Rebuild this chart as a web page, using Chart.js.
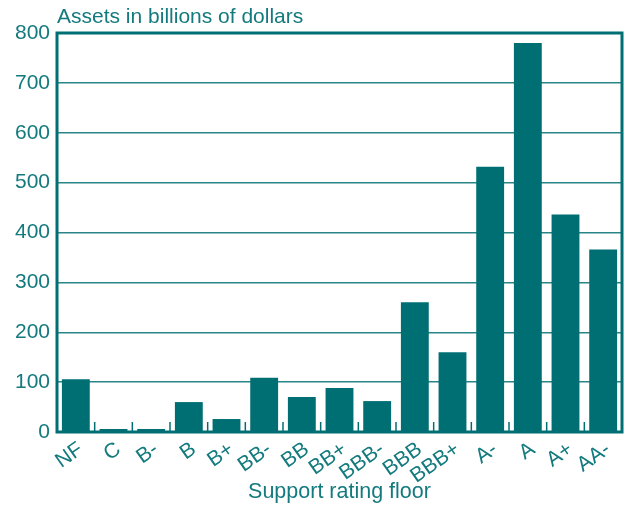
<!DOCTYPE html>
<html>
<head>
<meta charset="utf-8">
<script src="https://cdn.jsdelivr.net/npm/chart.js@4"></script>
<style>
    html, body { margin: 0; padding: 0; background: #fff; }
    #wrap { width: 629px; height: 510px; }
</style>
</head>
<body>
<div id="wrap"><canvas id="ratingChart"></canvas></div>
<script>
const ratings = ["NF", "C", "B-", "B", "B+", "BB-", "BB", "BB+", "BBB-", "BBB", "BBB+", "A-", "A", "A+", "AA-"];
const assets = [106, 6, 6, 60, 26, 109, 70, 88, 62, 260, 160, 532, 780, 436, 366];
const yTicks = [0, 100, 200, 300, 400, 500, 600, 700, 800];

const teal = '#006f74';
const textTeal = '#137a7e';
const font = "'Liberation Sans', Arial, sans-serif";

// frame, short category ticks and the top-left axis caption
const framePlugin = {
    id: 'frame',
    afterDraw(chart) {
        const ctx = chart.ctx;
        const a = chart.chartArea;
        const x = chart.scales.x;
        ctx.save();
        ctx.strokeStyle = teal;
        ctx.lineWidth = 1.5;
        for (let i = 1; i < ratings.length; i++) {
            const px = (x.getPixelForValue(i - 1) + x.getPixelForValue(i)) / 2;
            ctx.beginPath();
            ctx.moveTo(px, a.bottom);
            ctx.lineTo(px, a.bottom - 10);
            ctx.stroke();
        }
        ctx.lineWidth = 3;
        ctx.strokeRect(a.left, a.top, a.right - a.left, a.bottom - a.top);
        ctx.fillStyle = textTeal;
        ctx.font = "21px " + font;
        ctx.textBaseline = 'bottom';
        ctx.textAlign = 'left';
        ctx.fillText("Assets in billions of dollars", a.left, a.top - 5);
        ctx.restore();
    }
};

new Chart(document.getElementById('ratingChart'), {
    type: 'bar',
    data: {
        labels: ratings,
        datasets: [{
            label: 'Assets',
            data: assets,
            backgroundColor: teal,
            borderWidth: 0,
            barPercentage: 0.74,
            categoryPercentage: 1
        }]
    },
    options: {
        responsive: true,
        maintainAspectRatio: false,
        animation: false,
        layout: { padding: { top: 33, right: 7, left: 0, bottom: 5 } },
        plugins: {
            legend: { display: false },
            tooltip: { enabled: false }
        },
        scales: {
            x: {
                afterFit: s => { s.height = 73; },
                grid: { display: false },
                border: { display: false },
                ticks: {
                    color: textTeal,
                    font: { family: font, size: 21 },
                    minRotation: 35,
                    maxRotation: 35,
                    autoSkip: false,
                    padding: -3,
                    labelOffset: 5
                },
                title: {
                    display: true,
                    text: 'Support rating floor',
                    color: textTeal,
                    font: { family: font, size: 21.5 },
                    padding: { top: 0, bottom: 0 }
                }
            },
            y: {
                min: 0,
                max: 800,
                afterFit: s => { s.width = 57; },
                afterBuildTicks: s => { s.ticks = yTicks.map(v => ({ value: v })); },
                grid: { color: '#2a8588', lineWidth: 1.5, drawTicks: false },
                border: { display: false },
                ticks: {
                    color: textTeal,
                    font: { family: font, size: 21 },
                    padding: 7
                }
            }
        }
    },
    plugins: [framePlugin]
});
</script>
</body>
</html>
